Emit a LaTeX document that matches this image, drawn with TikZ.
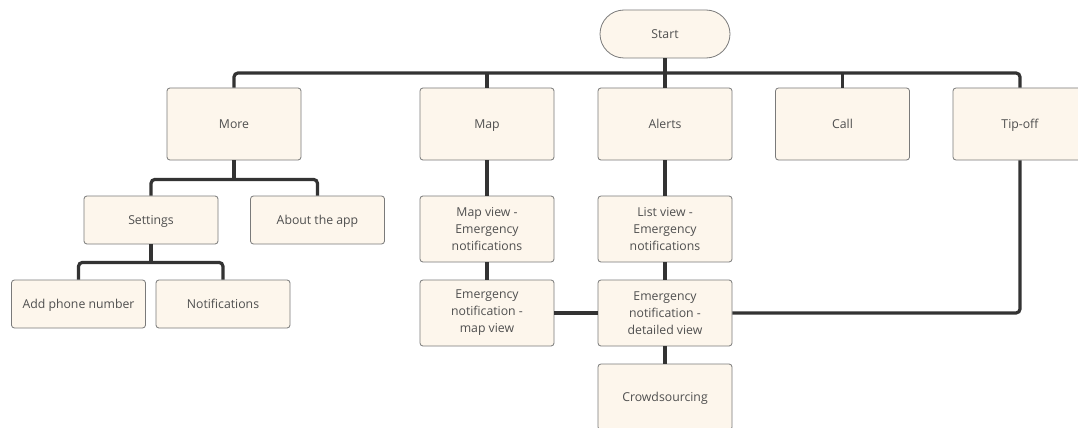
\documentclass[tikz,border=0pt]{standalone}
\usepackage{fontspec}
\setmainfont{Open Sans}
\definecolor{boxfill}{HTML}{FDF6EC}
\definecolor{boxline}{HTML}{7A7A7A}
\definecolor{txt}{HTML}{4F4F4F}
\definecolor{wire}{HTML}{333333}
\begin{document}
\begin{tikzpicture}[x=0.75pt,y=-0.75pt,
  box/.style={draw=boxline,fill=boxfill,line width=0.6pt,rounded corners=2.2pt,
    minimum width=100.5pt,inner sep=0pt,align=center,text=txt,
    font=\fontsize{9.2}{12.75}\selectfont},
  oneline/.style={text height=6.6pt,text depth=0pt},
  tall/.style={box,oneline,minimum height=54pt},
  mid/.style={box,minimum height=49.5pt},
  small/.style={box,oneline,minimum height=36pt},
  term/.style={box,oneline,minimum width=97.5pt,minimum height=36pt,rounded corners=18pt},
  conn/.style={draw=wire,line width=2.4pt,rounded corners=3pt}]
\useasboundingbox (0,0) rectangle (1078,428);
\fill[white] (0,0) rectangle (1078,428);

% top level
\node[term]  (start)  at (665,34)  {Start};
\node[tall]  (more)   at (234,124) {More};
\node[tall]  (map)    at (487,124) {Map};
\node[tall]  (alerts) at (665,124) {Alerts};
\node[tall]  (call)   at (842.5,124) {Call};
\node[tall]  (tipoff) at (1020,124) {Tip-off};

% "More" branch
\node[small] (settings) at (151,220) {Settings};
\node[small] (about)    at (317.5,220) {About the app};
\node[small] (phone)    at (78.5,304) {Add phone number};
\node[small] (notif)    at (223,304) {Notifications};

% "Map" and "Alerts" branches
\node[mid] (mapview)  at (487,229) {Map view -\\Emergency\\notifications};
\node[mid] (mapnote)  at (487,313) {Emergency\\notification -\\map view};
\node[mid] (listview) at (665,229) {List view -\\Emergency\\notifications};
\node[mid] (detail)   at (665,313) {Emergency\\notification -\\detailed view};
\node[mid,oneline] (crowd) at (665,397) {Crowdsourcing};

% main bus under Start
\coordinate (bus) at (665,73);
\draw[conn] (start.south) -- (bus);
\draw[conn] (more.north) |- (bus) -| (tipoff.north);
\draw[conn] (map.north) -- (map.north |- bus);
\draw[conn] (alerts.north) -- (alerts.north |- bus);
\draw[conn] (call.north) -- (call.north |- bus);

% More -> Settings / About
\path (more.south) ++(0,19) coordinate (mbus);
\draw[conn] (more.south) -- (mbus);
\draw[conn] (settings.north) |- (mbus) -| (about.north);

% Settings -> phone / notifications
\path (settings.south) ++(0,18) coordinate (sbus);
\draw[conn] (settings.south) -- (sbus);
\draw[conn] (phone.north) |- (sbus) -| (notif.north);

% Map chain
\draw[conn] (map.south) -- (mapview.north);
\draw[conn] (mapview.south) -- (mapnote.north);
\draw[conn] (mapnote.east) -- (detail.west);

% Alerts chain
\draw[conn] (alerts.south) -- (listview.north);
\draw[conn] (listview.south) -- (detail.north);
\draw[conn] (detail.south) -- (crowd.north);
\draw[conn] (detail.east) -| (tipoff.south);
\end{tikzpicture}
\end{document}
